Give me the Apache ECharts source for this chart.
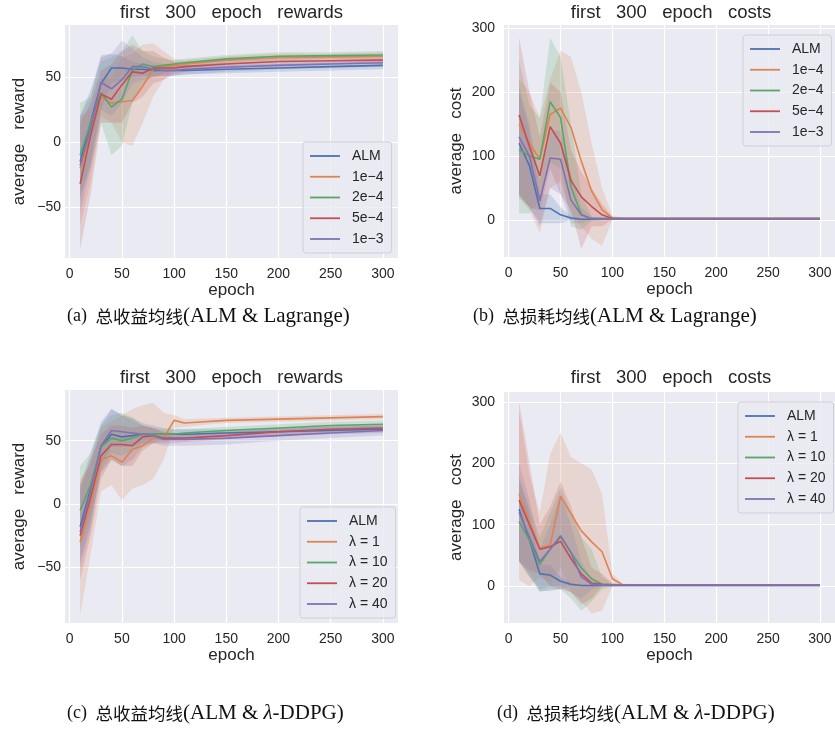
<!DOCTYPE html>
<html><head><meta charset="utf-8">
<script src="https://cdn.jsdelivr.net/npm/echarts@6/dist/echarts.min.js"></script>
<style>html,body{margin:0;padding:0;background:#fff}#c{width:835px;height:733px}</style>
</head><body><div id="c"></div>
<script>
// ---------- data ----------
const epochs = [10,20,30,40,50,60,70,80,90,100,110,150,200,250,300];
const xTicks = [0,50,100,150,200,250,300];
const yTicksReward = [-50,0,50];
const yTicksCost = [0,100,200,300];
const namesLagrange = ['ALM','1e\u22124','2e\u22124','5e\u22124','1e\u22123'];
const namesLambda = ['ALM','\u03bb = 1','\u03bb = 10','\u03bb = 20','\u03bb = 40'];

// (a) rewards, ALM & Lagrange
const rewLag_ALM    = [-15,15,45,57,57,56,56,55,55,55,55,56,57,58,59];
const rewLag_ALM_lo = [-45,-15,25,45,48,50,51,51,51,51,52,53,54,55,56];
const rewLag_ALM_hi = [20,40,65,68,66,62,60,59,59,59,59,59,60,61,62];
const rewLag_1e4    = [-20,5,35,30,31,32,43,56,58,59,60,63,65,65.5,66];
const rewLag_1e4_lo = [-65,-30,20,15,0,-3,15,35,48,55,57,60,62,63,63];
const rewLag_1e4_hi = [20,25,50,50,65,68,75,76,70,64,63,66,68,68,69];
const rewLag_2e4    = [-10,15,38,27,33,55,60,58,59,60,61,64,66,66.5,67];
const rewLag_2e4_lo = [-40,-20,15,-10,-3,30,45,50,53,56,58,61,63,64,64];
const rewLag_2e4_hi = [30,35,62,65,70,82,70,66,64,63,64,67,69,69,70];
const rewLag_5e4    = [-32,5,37,33,44,54,53,57,57,57,58,60,62,62.5,63];
const rewLag_5e4_lo = [-82,-40,15,15,15,30,35,45,48,52,54,57,59,60,60];
const rewLag_5e4_hi = [15,30,55,60,70,75,70,70,65,62,62,63,65,65,66];
const rewLag_1e3    = [-18,10,46,41,48,58,58,56,55,55,56,57.5,59,60,61];
const rewLag_1e3_lo = [-55,-20,25,20,30,45,48,50,51,51,52,54,56,57,58];
const rewLag_1e3_hi = [20,35,67,68,78,72,65,62,60,59,59,61,62,63,64];

// (b) costs, ALM & Lagrange
const costLag_ALM    = [120,85,18,18,8,3,1,1,1,1,1,1,1,1,1];
const costLag_ALM_lo = [35,20,-5,-5,-5,0,0,0,0,0,0,0,0,0,0];
const costLag_ALM_hi = [200,140,40,40,20,6,2,2,2,2,2,2,2,2,2];
const costLag_1e4    = [150,120,95,165,175,145,92,45,16,3,2,2,2,2,2];
const costLag_1e4_lo = [35,15,-20,50,60,10,-10,-30,-40,0,0,0,0,0,0];
const costLag_1e4_hi = [220,200,160,220,265,255,200,120,50,6,3,3,3,3,3];
const costLag_2e4    = [110,100,95,185,160,52,8,2,2,2,2,2,2,2,2];
const costLag_2e4_lo = [10,10,30,90,80,-10,-15,-2,0,0,0,0,0,0,0];
const costLag_2e4_hi = [250,180,160,285,255,150,40,5,3,3,3,3,3,3,3];
const costLag_5e4    = [164,115,69,146,120,62,36,21,8,2,2,2,2,2,2];
const costLag_5e4_lo = [40,20,15,80,40,15,-45,-10,-10,0,0,0,0,0,0];
const costLag_5e4_hi = [285,200,130,215,200,110,75,50,25,5,3,3,3,3,3];
const costLag_1e3    = [130,100,30,97,95,31,8,2,2,2,2,2,2,2,2];
const costLag_1e3_lo = [40,20,-10,50,40,-5,-5,0,0,0,0,0,0,0,0];
const costLag_1e3_hi = [210,150,60,140,140,70,20,5,3,3,3,3,3,3,3];

// (c) rewards, ALM & lambda-DDPG
const rewLam_ALM    = [-18,12,45,55,53,54,55,55,55,55,55,56,57,58,59];
const rewLam_ALM_lo = [-45,-15,25,35,30,35,45,48,50,51,52,53,54,55,56];
const rewLam_ALM_hi = [15,40,65,75,70,68,64,62,60,59,59,59,60,61,62];
const rewLam_1      = [-30,0,35,38,33,43,46,52,52,66,64,66,67,68,69];
const rewLam_1_lo   = [-88,-40,10,15,3,12,15,20,35,60,61,64,65,66,67];
const rewLam_1_hi   = [20,30,60,65,70,75,78,80,72,70,67,68,69,70,71];
const rewLam_10     = [-5,15,45,52,50,52,55,55,55,55,56,58,60,62,63];
const rewLam_10_lo  = [-35,-10,25,40,38,42,48,50,51,52,53,55,57,59,60];
const rewLam_10_hi  = [30,40,62,70,72,68,62,60,59,59,59,61,63,65,66];
const rewLam_20     = [-25,5,38,47,47,46,53,54,52,52,52,54,57,59,60];
const rewLam_20_lo  = [-60,-25,20,35,30,30,42,48,48,48,49,51,54,56,57];
const rewLam_20_hi  = [15,35,55,62,62,60,62,60,57,56,55,57,60,62,63];
const rewLam_40     = [-22,10,46,58,57,56,55,54,51,51,51,52,54,56,58];
const rewLam_40_lo  = [-50,-20,30,45,45,46,48,48,46,46,46,47,50,52,54];
const rewLam_40_hi  = [10,35,62,75,70,66,62,60,56,56,56,57,59,61,62];

// (d) costs, ALM & lambda-DDPG
const costLam_ALM    = [125,75,20,18,8,3,1,1,1,1,1,1,1,1,1];
const costLam_ALM_lo = [40,20,-8,-8,-5,0,0,0,0,0,0,0,0,0,0];
const costLam_ALM_hi = [180,120,35,35,15,5,2,2,2,2,2,2,2,2,2];
const costLam_1      = [150,105,62,67,146,118,90,72,56,12,2,2,2,2,2];
const costLam_1_lo   = [10,0,15,5,30,-10,-25,-45,-40,0,0,0,0,0,0];
const costLam_1_hi   = [285,180,120,215,250,210,200,190,150,20,4,3,3,3,3];
const costLam_10     = [105,75,35,60,80,55,30,12,3,2,2,2,2,2,2];
const costLam_10_lo  = [40,15,-10,-5,-5,-20,-40,-25,-5,0,0,0,0,0,0];
const costLam_10_hi  = [170,130,80,120,160,120,80,60,15,4,3,3,3,3,3];
const costLam_20     = [140,100,60,64,73,45,20,5,3,2,2,2,2,2,2];
const costLam_20_lo  = [40,25,20,0,-5,-10,-30,-20,0,0,0,0,0,0,0];
const costLam_20_hi  = [300,200,100,130,170,130,80,30,20,5,3,3,3,3,3];
const costLam_40     = [120,80,40,60,82,55,15,3,2,2,2,2,2,2,2];
const costLam_40_lo  = [40,15,-5,0,0,-10,-20,-5,0,0,0,0,0,0,0];
const costLam_40_hi  = [200,140,60,100,150,100,40,10,3,3,3,3,3,3,3];

// ---------- styling ----------
const COLORS = ['#4C72B0','#DD8452','#55A868','#C44E52','#8172B3'];
const SANS = '"Liberation Sans", Arial, sans-serif';
const SERIF = '"Liberation Serif", "Noto Sans CJK SC", serif';
const CJK = '"Noto Sans CJK SC", sans-serif';
const TXT = '#262626';
function rgba(hex, a){const n=parseInt(hex.slice(1),16);return `rgba(${n>>16&255},${n>>8&255},${n&255},${a})`;}

const panels = [
  {grid:{left:65,top:25,width:333,height:233}, y:[-89,90], yTicks:yTicksReward, yName:'average   reward', yNameGap:37, labMargin:4,
   title:'first   300   epoch   rewards', tx:231.5, ty:13, names:namesLagrange, legend:{left:303, top:142},
   sets:[[rewLag_ALM,rewLag_ALM_lo,rewLag_ALM_hi],[rewLag_1e4,rewLag_1e4_lo,rewLag_1e4_hi],[rewLag_2e4,rewLag_2e4_lo,rewLag_2e4_hi],[rewLag_5e4,rewLag_5e4_lo,rewLag_5e4_hi],[rewLag_1e3,rewLag_1e3_lo,rewLag_1e3_hi]]},
  {grid:{left:504,top:25,width:333,height:232}, y:[-58,305], yTicks:yTicksCost, yName:'average   cost', yNameGap:39, labMargin:9,
   title:'first   300   epoch   costs', tx:671, ty:13, names:namesLagrange, legend:{left:743, top:35},
   sets:[[costLag_ALM,costLag_ALM_lo,costLag_ALM_hi],[costLag_1e4,costLag_1e4_lo,costLag_1e4_hi],[costLag_2e4,costLag_2e4_lo,costLag_2e4_hi],[costLag_5e4,costLag_5e4_lo,costLag_5e4_hi],[costLag_1e3,costLag_1e3_lo,costLag_1e3_hi]]},
  {grid:{left:65,top:390,width:333,height:233}, y:[-94,90], yTicks:yTicksReward, yName:'average   reward', yNameGap:37, labMargin:4,
   title:'first   300   epoch   rewards', tx:231.5, ty:378, names:namesLambda, legend:{left:300, top:507},
   sets:[[rewLam_ALM,rewLam_ALM_lo,rewLam_ALM_hi],[rewLam_1,rewLam_1_lo,rewLam_1_hi],[rewLam_10,rewLam_10_lo,rewLam_10_hi],[rewLam_20,rewLam_20_lo,rewLam_20_hi],[rewLam_40,rewLam_40_lo,rewLam_40_hi]]},
  {grid:{left:504,top:392,width:333,height:231}, y:[-60,316], yTicks:yTicksCost, yName:'average   cost', yNameGap:39, labMargin:9,
   title:'first   300   epoch   costs', tx:671, ty:378, names:namesLambda, legend:{left:738, top:402},
   sets:[[costLam_ALM,costLam_ALM_lo,costLam_ALM_hi],[costLam_1,costLam_1_lo,costLam_1_hi],[costLam_10,costLam_10_lo,costLam_10_hi],[costLam_20,costLam_20_lo,costLam_20_hi],[costLam_40,costLam_40_lo,costLam_40_hi]]}
];

function bandRender(color){
  return function(params, api){
    if (params.dataIndexInside !== 0) return null;
    const n = params.dataInsideLength, up = [], dn = [];
    for (let i = 0; i < n; i++) {
      up.push(api.coord([api.value(0,i), api.value(2,i)]));
      dn.push(api.coord([api.value(0,i), api.value(1,i)]));
    }
    return {type:'polygon', shape:{points: up.concat(dn.reverse())}, style:{fill: rgba(color,0.2)}, silent:true};
  };
}
const minus = v => String(v).replace('-', '\u2212');

const grid=[], xAxis=[], yAxis=[], series=[], legend=[], graphic=[];
panels.forEach((p, g) => {
  grid.push(Object.assign({show:true, backgroundColor:'#EAEAF2', borderWidth:0, containLabel:false}, p.grid));
  xAxis.push({type:'value', gridIndex:g, min:-4.5, max:314.5,
    name:'epoch', nameLocation:'middle', nameGap:24, nameTextStyle:{fontFamily:SANS, fontSize:17, color:TXT},
    axisLine:{show:false}, axisTick:{show:false, customValues:xTicks},
    axisLabel:{customValues:xTicks, margin:9, fontFamily:SANS, fontSize:14, color:TXT},
    splitLine:{show:true, lineStyle:{color:'#ffffff', width:1.2}}});
  yAxis.push({type:'value', gridIndex:g, min:p.y[0], max:p.y[1],
    name:p.yName, nameLocation:'middle', nameGap:p.yNameGap, nameTextStyle:{fontFamily:SANS, fontSize:17, color:TXT},
    axisLine:{show:false}, axisTick:{show:false, customValues:p.yTicks},
    axisLabel:{customValues:p.yTicks, margin:p.labMargin, fontFamily:SANS, fontSize:14, color:TXT, formatter:minus},
    splitLine:{show:true, lineStyle:{color:'#ffffff', width:1.2}}});
  p.sets.forEach((s, k) => {
    series.push({type:'custom', name:p.names[k]+' band '+g, xAxisIndex:g, yAxisIndex:g, silent:true, z:1,
      encode:{x:0, y:[1,2]}, renderItem:bandRender(COLORS[k]),
      data: epochs.map((e,i)=>[e, s[1][i], s[2][i]])});
  });
  p.sets.forEach((s, k) => {
    series.push({type:'line', name:p.names[k], xAxisIndex:g, yAxisIndex:g, z:3, symbol:'none', silent:true,
      color:COLORS[k], lineStyle:{color:COLORS[k], width:1.6},
      data: epochs.map((e,i)=>[e, s[0][i]])});
  });
  legend.push({data:p.names, orient:'vertical', left:p.legend.left, top:p.legend.top,
    icon:'rect', itemWidth:30, itemHeight:1.8, itemGap:4.75, padding:[6,8,6,7],
    backgroundColor:'rgba(234,234,242,0.8)', borderColor:'#cfcfd8', borderWidth:1, borderRadius:3,
    textStyle:{fontFamily:SANS, fontSize:14, color:TXT, lineHeight:16, padding:[0,0,0,7]}, selectedMode:false});
  graphic.push({type:'text', x:p.tx, y:p.ty, style:{text:p.title, font:'18.5px '+SANS, fill:TXT, textAlign:'center', textVerticalAlign:'middle'}});
});

const captions = [
  {x:67, y:316, lab:'(a)', zh:'总收益均线', en:'(ALM & Lagrange)'},
  {x:473, y:316, lab:'(b)', zh:'总损耗均线', en:'(ALM & Lagrange)'},
  {x:67, y:713, lab:'(c)', zh:'总收益均线', en:'(ALM & {i|\u03bb}{l|-DDPG)}'},
  {x:497, y:713, lab:'(d)', zh:'总损耗均线', en:'(ALM & {i|\u03bb}{l|-DDPG)}'}
];
captions.forEach(c => {
  const en = c.en.indexOf('{') >= 0 ? '{l|' + c.en.replace('{i|', '}{i|') : '{l|' + c.en + '}';
  graphic.push({type:'text', x:c.x, y:c.y,
    style:{text:'{n|' + c.lab + '}  {c|' + c.zh + '}' + en, fontFamily:SERIF, fontSize:17, fill:'#111',
      textAlign:'left', textVerticalAlign:'middle',
      rich:{n:{fontFamily:SERIF, fontSize:18, fill:'#111'},
            c:{fontFamily:CJK, fontSize:17.5, fill:'#111'},
            l:{fontFamily:SERIF, fontSize:21, fill:'#111'},
            i:{fontFamily:SERIF, fontSize:21, fontStyle:'italic', fill:'#111'}}}});
});

const chart = echarts.init(document.getElementById('c'), null, {renderer:'canvas'});
chart.setOption({animation:false, backgroundColor:'#ffffff', grid, xAxis, yAxis, series, legend, graphic});
</script>
</body></html>
